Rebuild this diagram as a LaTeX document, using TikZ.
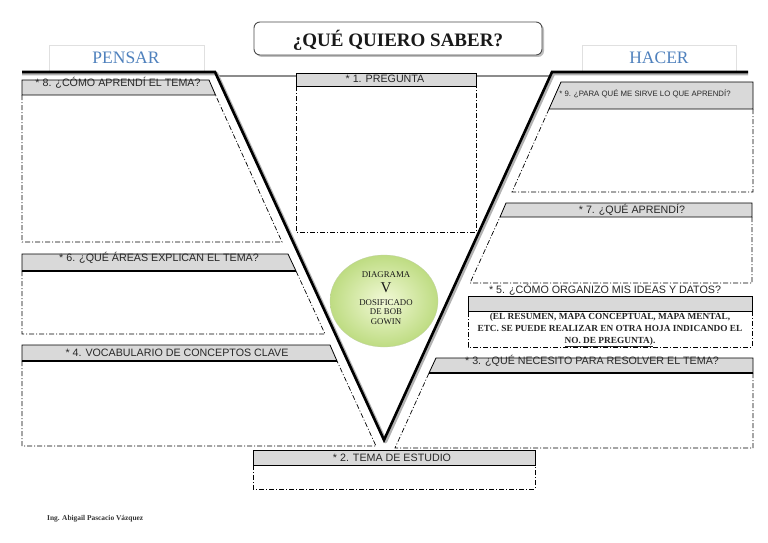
\documentclass[tikz,border=0pt]{standalone}
\usepackage{fontspec}
\setmainfont{Liberation Serif}
\setsansfont{Liberation Sans}
\usetikzlibrary{shapes.geometric}
\definecolor{hdrgray}{RGB}{217,217,217}
\definecolor{txtgray}{RGB}{40,40,40}
\definecolor{blueT}{RGB}{79,129,189}
\definecolor{ellin}{RGB}{242,249,215}
\definecolor{ellout}{RGB}{190,220,130}
\tikzset{
  hdr/.style={draw=black, line width=0.8pt, fill=hdrgray},
  ddline/.style={draw=black, line width=0.7pt, dash pattern={on 5pt off 2pt on 1pt off 2pt}},
  hlbl/.style={font=\sffamily\fontsize{10.7}{12}\selectfont, text=txtgray, inner sep=0pt},
  elbl/.style={font=\fontsize{8.8}{10}\selectfont, text=black!90, inner sep=0pt},
  sidebox/.style={draw=black!12, line width=0.8pt, fill=white},
}
\begin{document}
\begin{tikzpicture}[x=1pt,y=-1pt]
\useasboundingbox (0,0) rectangle (768,543);
\fill[white] (0,0) rectangle (768,543);

% Title
\fill[black!25] (256,24) [rounded corners=6pt] rectangle (544,57);
\draw[rounded corners=6pt, draw=black!70, line width=0.9pt, fill=white] (254,22) rectangle (542,55);
\node[font=\bfseries\fontsize{19}{22}\selectfont, text=black!90, inner sep=0pt] (title) at (398,40) {¿QUÉ QUIERO SABER?};

% PENSAR / HACER
\draw[sidebox] (49,45) rectangle (204,71);
\node[font=\fontsize{17.5}{20}\selectfont, text=blueT, inner sep=0pt] (pensar) at (126,58) {PENSAR};
\draw[sidebox] (582,45) rectangle (736,71);
\node[font=\fontsize{17.5}{20}\selectfont, text=blueT, inner sep=0pt] (hacer) at (659,58) {HACER};

% thin gray line
\draw[black!45, line width=1.3pt] (217,76) -- (549,76);

% V shadow and V
\draw[black!30, line width=3.5pt, line join=round] (22,73.5) -- (216.5,73.5) -- (385.5,441.5) -- (553.5,73.5) -- (748,73.5);
\draw[black, line width=2.6pt, line join=miter] (22,72) -- (215,72) -- (384,440) -- (552,72) -- (748,72);

% Box 8
\draw[ddline] (22,95) -- (22,242) -- (282,242) -- (215.5,95);
\draw[hdr] (22,80) -- (209,80) -- (215.5,95) -- (22,95) -- cycle;
\node[hlbl] (t8) at (118,83) {* 8. ¿CÓMO APRENDÍ EL TEMA?};

% Box 6
\draw[ddline] (22,271) -- (22,334) -- (325,334) -- (296,271);
\draw[hdr] (22,254) -- (288,254) -- (296,271) -- (22,271) -- cycle;
\draw[black, line width=1.6pt] (22,271) -- (296,271);
\node[hlbl] (t6) at (159,258) {* 6. ¿QUÉ ÁREAS EXPLICAN EL TEMA?};

% Box 4
\draw[ddline] (22,361) -- (22,446) -- (376,446) -- (337,361);
\draw[hdr] (22,345) -- (330,345) -- (337,361) -- (22,361) -- cycle;
\draw[black, line width=1.6pt] (22,361) -- (337,361);
\node[hlbl] (t4) at (177,353) {* 4. VOCABULARIO DE CONCEPTOS CLAVE};

% Box 1
\draw[ddline] (296,86) -- (296,232) -- (476,232) -- (476,86);
\draw[hdr] (296,73) rectangle (476,86);
\node[hlbl] (t1) at (385,79) {* 1. PREGUNTA};

% Box 9
\draw[ddline] (753,109) -- (753,192) -- (512,192) -- (549,109);
\draw[hdr] (561,82) -- (753,82) -- (753,109) -- (549,109) -- cycle;
\node[hlbl, font=\sffamily\fontsize{7.8}{9}\selectfont] (t9) at (645,94) {* 9. ¿PARA QUÉ ME SIRVE LO QUE APRENDÍ?};

% Box 7
\draw[ddline] (752,217) -- (752,283) -- (470,283) -- (500,217);
\draw[hdr] (506,203) -- (752,203) -- (752,217) -- (500,217) -- cycle;
\node[hlbl] (t7) at (632,210) {* 7. ¿QUÉ APRENDÍ?};

% Box 5
\draw[ddline] (752,311) -- (752,347) -- (468,347) -- (468,311);
\draw[hdr] (468,296) rectangle (752,311);
\node[hlbl] (t5) at (605,290) {* 5. ¿CÓMO ORGANIZO MIS IDEAS Y DATOS?};
\node[font=\bfseries\fontsize{9.3}{12}\selectfont, text=black!85, align=center, inner sep=0pt] (t5b) at (610,330)
  {(EL RESUMEN, MAPA CONCEPTUAL, MAPA MENTAL,\\ETC. SE PUEDE REALIZAR EN OTRA HOJA INDICANDO EL\\\underline{NO. DE PREGUNTA)}.};

% Box 3
\draw[ddline] (753,373) -- (753,448) -- (395,448) -- (429,373);
\draw[hdr] (436,358) -- (753,358) -- (753,373) -- (429,373) -- cycle;
\draw[black, line width=1.6pt] (429,373) -- (753,373);
\node[hlbl] (t3) at (592,361) {* 3. ¿QUÉ NECESITO PARA RESOLVER EL TEMA?};

% Box 2
\draw[ddline] (253,465) -- (253,489) -- (535,489) -- (535,465);
\draw[hdr] (253,450) rectangle (535,465);
\node[hlbl] (t2) at (392,458) {* 2. TEMA DE ESTUDIO};

% Ellipse
\node[ellipse, minimum width=108pt, minimum height=92pt, inner color=ellin, outer color=ellout, draw=ellout!80!black!60, line width=0.3pt] (ell) at (384,301) {};
\node[elbl] (e1) at (386,275) {DIAGRAMA};
\node[elbl, font=\fontsize{15}{16}\selectfont] (e2) at (386,288) {V};
\node[elbl] (e3) at (386,303) {DOSIFICADO};
\node[elbl] (e4) at (386,312) {DE BOB};
\node[elbl] (e5) at (386,322) {GOWIN};

% Footer
\node[font=\bfseries\fontsize{7.4}{9}\selectfont, text=black!80, inner sep=0pt, anchor=west] (foot) at (47,519) {Ing. Abigail Pascacio Vázquez};
\end{tikzpicture}
\end{document}
